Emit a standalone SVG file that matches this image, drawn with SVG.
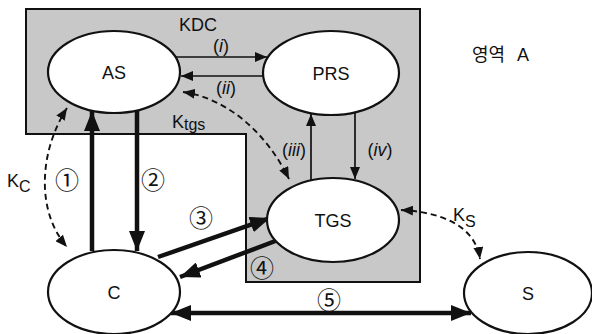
<svg xmlns="http://www.w3.org/2000/svg" width="592" height="334" viewBox="0 0 592 334">
  <style>
    .node { fill: #ffffff; stroke: #111111; stroke-width: 2.2; }
    .lbl { font-family: "Liberation Sans", Arial, sans-serif; font-size: 18px; fill: #111111; text-anchor: middle; }
    .txt { font-family: "Liberation Sans", "Noto Sans CJK KR", sans-serif; font-size: 18px; fill: #111111; }
    .num { font-family: "Noto Sans CJK KR", "DejaVu Sans", sans-serif; font-size: 24px; fill: #111111; text-anchor: middle; }
    .thin { stroke: #111111; stroke-width: 1.7; fill: none; }
    .thick { stroke: #111111; stroke-width: 4.5; fill: none; }
    .dash { stroke: #111111; stroke-width: 1.9; fill: none; stroke-dasharray: 6 4; }
  </style>
  <defs>
    <marker id="hThin" markerUnits="userSpaceOnUse" viewBox="0 0 12 10" refX="12" refY="5" markerWidth="12" markerHeight="10" orient="auto-start-reverse">
      <path d="M0,0 L12,5 L0,10 z" fill="#111111"/>
    </marker>
    <marker id="hThick" markerUnits="userSpaceOnUse" viewBox="0 0 20 16" refX="20" refY="8" markerWidth="20" markerHeight="16" orient="auto-start-reverse">
      <path d="M0,0 L20,8 L0,16 z" fill="#111111"/>
    </marker>
    <marker id="hDash" markerUnits="userSpaceOnUse" viewBox="0 0 12 10" refX="12" refY="5" markerWidth="12" markerHeight="10" orient="auto-start-reverse">
      <path d="M0,0 L12,5 L0,10 z" fill="#111111"/>
    </marker>
  </defs>

  <!-- KDC region (shaded area) -->
  <g id="kdc-region">
    <polygon points="26,9 420,9 420,282 246,282 246,134 26,134" fill="#c8c8c8" stroke="#111111" stroke-width="2"/>
    <text class="txt" x="198" y="31" text-anchor="middle">KDC</text>
  </g>

  <text class="txt" x="472" y="61" word-spacing="7">영역 A</text>

  <!-- connectors -->
  <g id="connectors">
    <!-- KDC internal exchanges -->
    <line class="thin" x1="176" y1="57" x2="267" y2="57" marker-end="url(#hThin)"/>
    <line class="thin" x1="263" y1="76" x2="181" y2="76" marker-end="url(#hThin)"/>
    <line class="thin" x1="311" y1="180" x2="311" y2="114" marker-end="url(#hThin)"/>
    <line class="thin" x1="355" y1="112" x2="355" y2="179" marker-end="url(#hThin)"/>

    <!-- shared keys -->
    <path class="dash" d="M183,92 C225,98 265,130 289,179" marker-start="url(#hDash)" marker-end="url(#hDash)"/>
    <path class="dash" d="M67,108 C40,150 35,210 67,247" marker-start="url(#hDash)" marker-end="url(#hDash)"/>
    <path class="dash" d="M401,210 C440,212 475,225 480,259" marker-start="url(#hDash)" marker-end="url(#hDash)"/>

    <!-- client messages -->
    <line class="thick" x1="92" y1="251" x2="92" y2="111" marker-end="url(#hThick)"/>
    <line class="thick" x1="137" y1="110" x2="137" y2="251" marker-end="url(#hThick)"/>
    <line class="thick" x1="158" y1="257" x2="270" y2="218" marker-end="url(#hThick)"/>
    <line class="thick" x1="278" y1="240" x2="180" y2="277" marker-end="url(#hThick)"/>
    <line class="thick" x1="171" y1="313" x2="471" y2="313" marker-start="url(#hThick)" marker-end="url(#hThick)"/>
  </g>

  <!-- connector labels -->
  <g id="labels">
    <text class="txt" x="221" y="52" font-size="17" text-anchor="middle">(<tspan font-style="italic">i</tspan>)</text>
    <text class="txt" x="226" y="94" text-anchor="middle">(<tspan font-style="italic">ii</tspan>)</text>
    <text class="txt" x="294" y="156" text-anchor="middle">(<tspan font-style="italic">iii</tspan>)</text>
    <text class="txt" x="380" y="156" text-anchor="middle">(<tspan font-style="italic">iv</tspan>)</text>
    <text class="txt" x="172" y="128" font-size="21">K<tspan font-size="16" dy="2">tgs</tspan></text>
    <text class="txt" x="7" y="187" font-size="22">K<tspan font-size="16" dy="5">C</tspan></text>
    <text class="txt" x="453" y="221" font-size="22">K<tspan font-size="16" dy="6">S</tspan></text>
    <text class="num" x="67" y="188.5">①</text>
    <text class="num" x="153" y="188.5">②</text>
    <text class="num" x="201" y="226.5">③</text>
    <text class="num" x="262" y="276.5">④</text>
    <text class="num" x="329" y="308.5">⑤</text>
  </g>

  <!-- nodes -->
  <g id="AS">
    <ellipse class="node" cx="114" cy="72" rx="66" ry="41"/>
    <text class="lbl" x="114" y="79">AS</text>
  </g>
  <g id="PRS">
    <ellipse class="node" cx="331" cy="73" rx="68" ry="42"/>
    <text class="lbl" x="331" y="80">PRS</text>
  </g>
  <g id="TGS">
    <ellipse class="node" cx="333" cy="220" rx="66" ry="42"/>
    <text class="lbl" x="333" y="227">TGS</text>
  </g>
  <g id="C">
    <ellipse class="node" cx="114" cy="292" rx="66" ry="42"/>
    <text class="lbl" x="114" y="299">C</text>
  </g>
  <g id="S">
    <ellipse class="node" cx="528" cy="293" rx="64" ry="41"/>
    <text class="lbl" x="528" y="300">S</text>
  </g>
</svg>
